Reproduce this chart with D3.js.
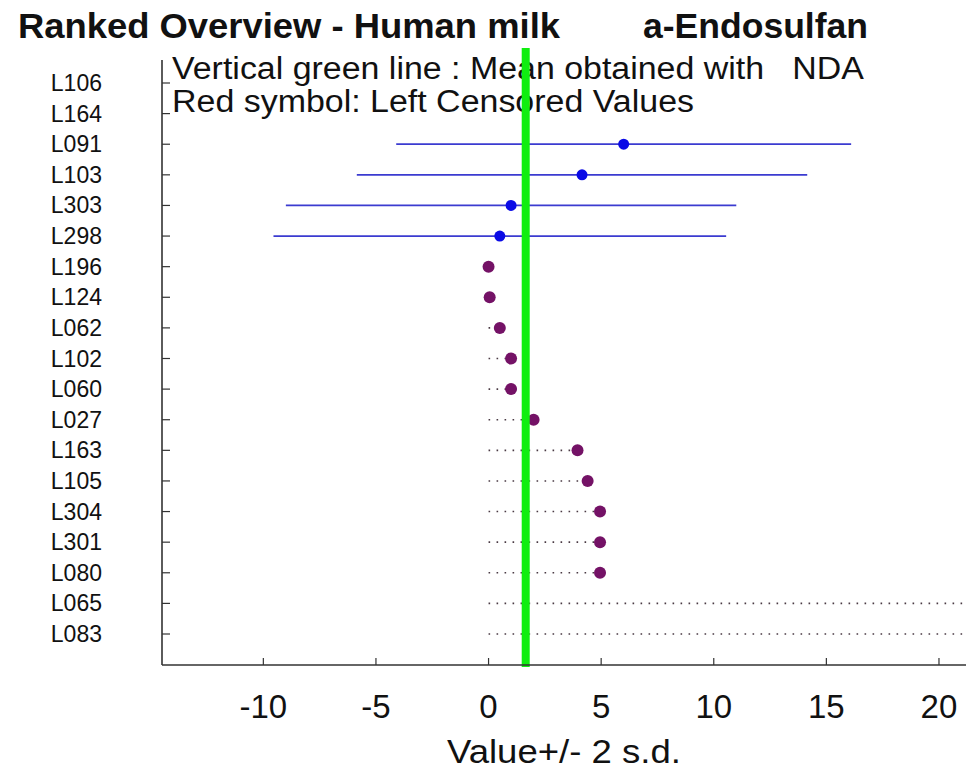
<!DOCTYPE html>
<html><head><meta charset="utf-8">
<script src="https://cdn.jsdelivr.net/npm/d3@7"></script>
<style>
html,body{margin:0;padding:0;background:#fff;}
svg{display:block;}
text{font-family:"Liberation Sans",Arial,sans-serif;fill:#111;white-space:pre;}
</style></head>
<body>
<svg id="chart" width="966" height="771"></svg>
<script>
// ---- data ----
const labs = ["L106","L164","L091","L103","L303","L298","L196","L124","L062","L102","L060","L027","L163","L105","L304","L301","L080","L065","L083"];
const values = [null,null,6.0,4.15,1.0,0.5,0.0,0.05,0.5,1.0,1.0,2.0,3.95,4.4,4.95,4.95,4.95,25,25];
const twoSD = [null,null,10.1,10.0,10.0,10.05,null,null,null,null,null,null,null,null,null,null,null,null,null];
const censored = [false,false,false,false,false,false,true,true,true,true,true,true,true,true,true,true,true,true,true];
const meanValue = 1.65;
const xTicks = [-10,-5,0,5,10,15,20];
const titleLeft = "Ranked Overview - Human milk";
const titleRight = "a-Endosulfan";
const legend1 = "Vertical green line : Mean obtained with   NDA";
const legend2 = "Red symbol: Left Censored Values";
const xTitle = "Value+/- 2 s.d.";

(function(){
const svg = d3.select("#chart");
const pL = 162, pR = 966, pT = 60, pB = 665;
const x = d3.scaleLinear().domain([-14.5, 21.2]).range([pL, pR]);
const y = d3.scalePoint().domain(labs).range([83, 634]);

const rows = labs.map((l,i)=>({lab:l, v:values[i], sd:twoSD[i], cens:censored[i]}));

svg.append("clipPath").attr("id","plotclip").append("rect")
  .attr("x",pL).attr("y",pT).attr("width",pR-pL).attr("height",pB-pT);

const plot = svg.append("g").attr("clip-path","url(#plotclip)");

plot.selectAll("line.cens").data(rows.filter(d=>d.cens && d.v!=null)).enter()
  .append("line").attr("class","cens")
  .attr("x1",x(0)).attr("x2",d=>x(d.v))
  .attr("y1",d=>y(d.lab)).attr("y2",d=>y(d.lab))
  .attr("stroke","#4a3a44").attr("stroke-width",1.6)
  .attr("stroke-dasharray","1.6,6.4");

plot.selectAll("line.err").data(rows.filter(d=>d.sd!=null)).enter()
  .append("line").attr("class","err")
  .attr("x1",d=>x(d.v-d.sd)).attr("x2",d=>x(d.v+d.sd))
  .attr("y1",d=>y(d.lab)).attr("y2",d=>y(d.lab))
  .attr("stroke","#3b3bd0").attr("stroke-width",1.7);

function txt(s, xx, yy, size, len, opts){
  const t = svg.append("text").attr("x",xx).attr("y",yy).attr("font-size",size)
    .attr("xml:space","preserve").text(s);
  if (len) t.attr("textLength",len).attr("lengthAdjust","spacingAndGlyphs");
  if (opts && opts.bold) t.attr("font-weight","bold");
  if (opts && opts.anchor) t.attr("text-anchor",opts.anchor);
  return t;
}

txt(legend1, 172, 79, 31, 692);
txt(legend2, 172, 112, 31, 522);

svg.append("line").attr("x1",x(meanValue)).attr("x2",x(meanValue))
  .attr("y1",48).attr("y2",pB+2)
  .attr("stroke","#10ee10").attr("stroke-width",8);

plot.selectAll("circle.pt").data(rows.filter(d=>d.v!=null)).enter()
  .append("circle").attr("class","pt")
  .attr("cx",d=>x(d.v)).attr("cy",d=>y(d.lab))
  .attr("r",d=>d.cens?6:5.5)
  .attr("fill",d=>d.cens?"#741266":"#0a0ae6");

svg.append("line").attr("x1",pL).attr("x2",pL).attr("y1",pT).attr("y2",pB)
  .attr("stroke","#333").attr("stroke-width",1.6);
svg.append("line").attr("x1",pL).attr("x2",pR).attr("y1",pB).attr("y2",pB)
  .attr("stroke","#333").attr("stroke-width",1.6);

svg.selectAll("line.yt").data(labs).enter().append("line")
  .attr("x1",pL).attr("x2",pL+8).attr("y1",d=>y(d)).attr("y2",d=>y(d))
  .attr("stroke","#333").attr("stroke-width",1.2);
svg.selectAll("text.yl").data(labs).enter().append("text")
  .attr("x",102).attr("y",d=>y(d)+8).attr("text-anchor","end")
  .attr("font-size",23).text(d=>d);

svg.selectAll("line.xt").data(xTicks).enter().append("line")
  .attr("x1",d=>x(d)).attr("x2",d=>x(d)).attr("y1",pB).attr("y2",pB-7)
  .attr("stroke","#333").attr("stroke-width",1.2);
svg.selectAll("text.xl").data(xTicks).enter().append("text")
  .attr("x",d=>x(d)).attr("y",718).attr("text-anchor","middle")
  .attr("font-size",33).text(d=>d);

txt(xTitle, 564, 763, 33, 234, {anchor:"middle"});
txt(titleLeft, 18, 38, 35, 542, {bold:true});
txt(titleRight, 643, 38, 35, 225, {bold:true});
})();
</script>
</body></html>
